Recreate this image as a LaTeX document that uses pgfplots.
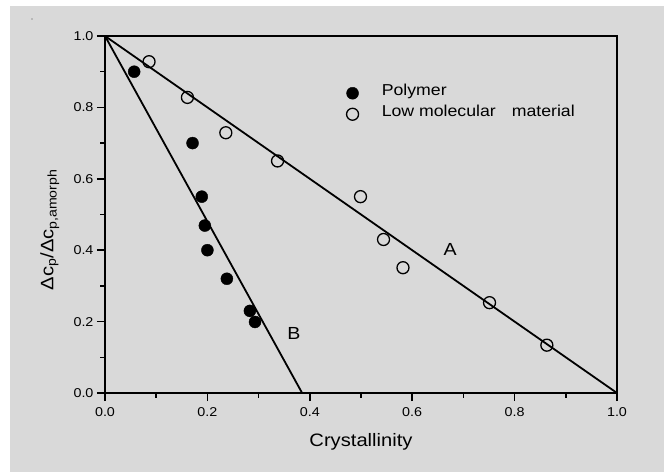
\documentclass[border=0pt]{standalone}
\usepackage{pgfplots}
\pgfplotsset{compat=1.18}
\usepackage{fontspec}
\setmainfont{Liberation Sans}[FakeStretch=1.12]
\definecolor{bggray}{RGB}{217,217,217}

\begin{document}
\begin{tikzpicture}[x=1pt,y=1pt]
% page background: gray with a thin white strip top and left
\fill[white] (0,0) rectangle (664,472);
\fill[bggray] (10,0) rectangle (664,466);
\fill[black!70] (32,453) circle (0.7);
\useasboundingbox (0,0) rectangle (664,472);

\begin{axis}[
    at={(105pt,79pt)}, anchor=south west,
    scale only axis,
    width=512pt, height=357pt,
    xmin=0, xmax=1, ymin=0, ymax=1,
    clip=false,
    axis line style={line width=2.4pt},
    tick align=outside,
    xtick pos=bottom, ytick pos=left,
    xtick={0,0.2,...,1.01}, ytick={0,0.2,...,1.01},
    minor x tick num=1, minor y tick num=1,
    major tick length=8pt, minor tick length=4.5pt,
    every tick/.style={black, line width=1.6pt},
    tick label style={font=\fontsize{12.8}{15}\selectfont},
    xticklabel style={yshift=-3pt},
    /pgf/number format/assume math mode=true,
    xticklabel={\pgfmathprintnumber[fixed,fixed zerofill,precision=1]{\tick}},
    yticklabel={\pgfmathprintnumber[fixed,fixed zerofill,precision=1]{\tick}},
    xlabel={Crystallinity},
    xlabel style={font=\fontsize{18}{21}\selectfont, at={(axis description cs:0.5,-0.137)}, anchor=center},
    ylabel={Δc\textsubscript{p}/Δc\textsubscript{p,amorph}},
    ylabel style={font=\fontsize{18}{21}\selectfont, at={(axis description cs:-0.108,0.457)}, anchor=center},
    legend cell align=left,
    legend image code/.code={\path (-6pt,0pt) (29pt,0pt); \draw[#1] plot coordinates {(0pt,0pt)};},
    legend style={at={(axis cs:0.471,0.857)}, anchor=north west, draw=none, fill=none,
        font=\fontsize{15.8}{18}\selectfont, row sep=9pt, inner sep=0pt,
        nodes={inner sep=0pt, text height=0.75em, text depth=0.25em}},
]
\addplot[only marks, mark=*, mark size=6pt, mark options={fill=black, draw=black}]
    coordinates {
    (0.057,0.900) (0.171,0.700) (0.189,0.550) (0.195,0.469)
    (0.200,0.400) (0.238,0.320) (0.283,0.230) (0.293,0.199)
    };
\addlegendentry{Polymer}
\addplot[only marks, mark=o, mark size=6pt, mark options={draw=black, line width=1.3pt}]
    coordinates {
    (0.086,0.928) (0.161,0.828) (0.236,0.729) (0.337,0.650)
    (0.499,0.550) (0.544,0.430) (0.582,0.351) (0.751,0.253) (0.863,0.134)
    };
\addlegendentry{Low molecular\hspace{16pt}material}
% fitted lines A and B
\addplot[black, line width=1.8pt, forget plot] coordinates {(0,1) (1,0)};
\addplot[black, line width=1.8pt, forget plot] coordinates {(0,1) (0.385,0)};
\node[font=\fontsize{17.5}{20}\selectfont] at (axis cs:0.674,0.402) {A};
\node[font=\fontsize{17.5}{20}\selectfont] at (axis cs:0.369,0.167) {B};
\end{axis}
\end{tikzpicture}
\end{document}
